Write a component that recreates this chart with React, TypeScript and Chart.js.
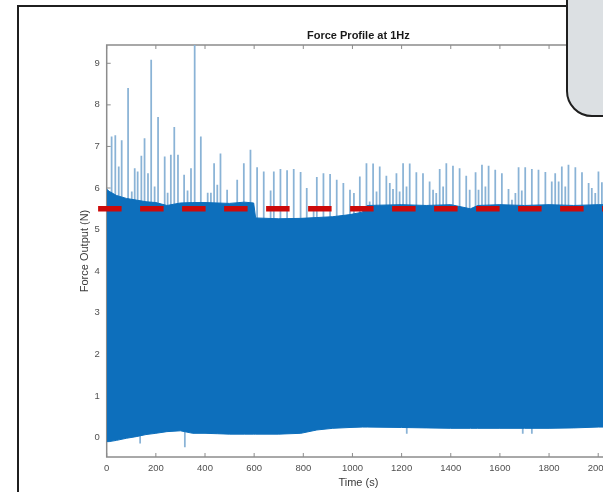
import { useEffect, useRef } from "react";
import { Chart, registerables } from "chart.js";

Chart.register(...registerables);

const FONT = "'Liberation Sans', Arial, Helvetica, sans-serif";

const titleText = "Force Profile at 1Hz";
const xLabel = "Time (s)";
const yLabel = "Force Output (N)";

const xTicks = [0, 200, 400, 600, 800, 1000, 1200, 1400, 1600, 1800, 2000];
const yTicks = [0, 1, 2, 3, 4, 5, 6, 7, 8, 9];
const xMin = 0;
const xMax = 2048;
const yMin = -0.47;
const yMax = 9.44;

// envelope of the dense 1 Hz oscillation (upper and lower extremes)
const envTimes = [0, 10, 40, 80, 120, 160, 200, 245, 300, 350, 400, 450, 500, 560, 598, 606, 700, 790, 855, 920, 990, 1040, 1060, 1200, 1300, 1400, 1480, 1510, 1600, 1700, 1800, 1900, 2000, 2100];
const envHigh = [5.97, 5.92, 5.82, 5.75, 5.71, 5.67, 5.65, 5.58, 5.64, 5.65, 5.65, 5.64, 5.63, 5.66, 5.64, 5.28, 5.26, 5.27, 5.29, 5.31, 5.36, 5.42, 5.58, 5.6, 5.58, 5.6, 5.5, 5.58, 5.6, 5.58, 5.6, 5.58, 5.6, 5.6];
const envLow = [-0.1, -0.1, -0.07, -0.02, 0.02, 0.07, 0.1, 0.14, 0.16, 0.1, 0.1, 0.09, 0.08, 0.08, 0.08, 0.08, 0.08, 0.1, 0.18, 0.22, 0.24, 0.25, 0.25, 0.24, 0.23, 0.22, 0.22, 0.22, 0.22, 0.22, 0.22, 0.23, 0.25, 0.25];

// isolated force peaks above the envelope
const spikeBase = 5.0;
const spikeTimes = [20, 35, 49, 61, 87, 102, 114, 126, 141, 154, 168, 181, 195, 209, 236, 248, 261, 275, 290, 315, 329, 343, 358, 383, 411, 424, 437, 450, 463, 490,
  531, 558, 585, 612, 639, 667, 680, 707, 734, 761, 789, 814, 842, 855, 882, 909, 936, 963, 990,
  1006, 1030, 1057, 1070, 1084, 1098, 1111, 1138, 1152, 1165, 1179, 1192, 1206, 1220, 1233, 1260, 1287, 1314, 1328, 1341, 1355, 1369, 1382, 1409, 1436, 1463, 1477, 1501,
  1513, 1527, 1541, 1554, 1581, 1608, 1635, 1649, 1663, 1676, 1689, 1703, 1730, 1757, 1785, 1811, 1825, 1839, 1852, 1866, 1879, 1907, 1934, 1961, 1974, 1988, 2001, 2015];
const spikePeaks = [7.23, 7.26, 6.51, 7.14, 8.4, 5.91, 6.47, 6.39, 6.77, 7.19, 6.35, 9.08, 6.03, 7.7, 6.75, 5.88, 6.79, 7.46, 6.79, 6.31, 5.93, 6.47, 9.6, 7.23, 5.88, 5.88, 6.59, 6.07, 6.82, 5.95,
  6.19, 6.59, 6.91, 6.49, 6.39, 5.93, 6.39, 6.45, 6.42, 6.45, 6.38, 5.99, 5.5, 6.26, 6.35, 6.33, 6.19, 6.11, 5.95,
  5.87, 6.27, 6.59, 5.67, 6.58, 5.91, 6.51, 6.29, 6.11, 5.97, 6.35, 5.91, 6.59, 6.03, 6.58, 6.37, 6.35, 6.15, 5.95, 5.87, 6.45, 6.03, 6.59, 6.53, 6.47, 6.29, 5.95, 6.37,
  5.95, 6.55, 6.03, 6.53, 6.43, 6.35, 5.97, 5.71, 5.87, 6.49, 5.93, 6.49, 6.45, 6.43, 6.38, 6.15, 6.35, 6.15, 6.51, 6.03, 6.55, 6.49, 6.37, 6.11, 5.99, 5.87, 6.39, 6.13];

// small dips below the lower envelope
const dipTop = 0.3;
const dipTimes = [136, 318, 1221, 1693, 1730];
const dipLows = [-0.14, -0.23, 0.1, 0.1, 0.1];

// threshold (red dashed)
const thresholdValue = 5.5;
const thresholdStart = -35;
const thresholdEnd = 2300;

const BLUE = "#0d6fbc";
const SPIKE = "#8ab3d6";

export default function App() {
  const ref = useRef<HTMLCanvasElement>(null);

  useEffect(() => {
    const canvas = ref.current;
    if (!canvas) return;

    const decor = {
      id: "decor",
      beforeDatasetsDraw(chart: any) {
        const { ctx, chartArea: a, scales } = chart;
        ctx.save();
        ctx.strokeStyle = "#8c8c8c";
        ctx.lineWidth = 1.5;
        ctx.strokeRect(a.left, a.top, a.right - a.left, a.bottom - a.top);
        ctx.lineWidth = 1;
        const L = 4;
        ctx.beginPath();
        for (const v of xTicks) {
          const px = scales.x.getPixelForValue(v);
          ctx.moveTo(px, a.bottom);
          ctx.lineTo(px, a.bottom - L);
          ctx.moveTo(px, a.top);
          ctx.lineTo(px, a.top + L);
        }
        for (const v of yTicks) {
          const py = scales.y.getPixelForValue(v);
          ctx.moveTo(a.left, py);
          ctx.lineTo(a.left + L, py);
        }
        ctx.stroke();
        ctx.restore();
      },
      afterDraw(chart: any) {
        const { ctx, chartArea: a } = chart;
        ctx.save();
        ctx.textAlign = "center";
        ctx.textBaseline = "middle";
        ctx.fillStyle = "#1a1a1a";
        ctx.font = `bold 11px ${FONT}`;
        ctx.fillText(titleText, (a.left + a.right) / 2, a.top - 9.5);
        ctx.fillStyle = "#3a3a3a";
        ctx.font = `11px ${FONT}`;
        ctx.fillText(xLabel, (a.left + a.right) / 2, a.bottom + 26);
        ctx.translate(a.left - 22, (a.top + a.bottom) / 2);
        ctx.rotate(-Math.PI / 2);
        ctx.fillText(yLabel, 0, 0);
        ctx.restore();
      },
    };

    const chart = new Chart(canvas, {
      type: "line",
      data: {
        datasets: [
          {
            type: "line",
            label: "threshold",
            data: [
              { x: thresholdStart, y: thresholdValue },
              { x: thresholdEnd, y: thresholdValue },
            ],
            borderColor: "#cc0a0a",
            borderWidth: 5.5,
            borderDash: [23.5, 18.5],
            pointRadius: 0,
            fill: false,
            clip: false as any,
            order: 0,
          },
          {
            type: "line",
            label: "upper",
            data: envTimes.map((t, i) => ({ x: t, y: envHigh[i] })),
            borderColor: BLUE,
            borderWidth: 1,
            backgroundColor: BLUE,
            fill: "+1",
            pointRadius: 0,
            tension: 0,
            order: 1,
          },
          {
            type: "line",
            label: "lower",
            data: envTimes.map((t, i) => ({ x: t, y: envLow[i] })),
            borderColor: BLUE,
            borderWidth: 1,
            fill: false,
            pointRadius: 0,
            tension: 0,
            order: 1,
          },
          {
            type: "bar",
            label: "spikes",
            data: spikeTimes.map((t, i) => ({ x: t, y: [spikeBase, spikePeaks[i]] })) as any,
            backgroundColor: SPIKE,
            barThickness: 1.1,
            grouped: false,
            order: 2,
          } as any,
          {
            type: "bar",
            label: "dips",
            data: dipTimes.map((t, i) => ({ x: t, y: [dipLows[i], dipTop] })) as any,
            backgroundColor: SPIKE,
            barThickness: 1.1,
            grouped: false,
            order: 2,
          } as any,
        ],
      },
      options: {
        animation: false,
        responsive: false,
        maintainAspectRatio: false,
        events: [],
        layout: { padding: { left: 0, top: 45, right: 30, bottom: 0 } },
        plugins: {
          legend: { display: false },
          tooltip: { enabled: false },
          title: { display: false },
        },
        scales: {
          x: {
            type: "linear",
            min: xMin,
            max: xMax,
            offset: false,
            grid: { display: false, drawTicks: false },
            border: { display: false },
            afterBuildTicks: (s: any) => {
              s.ticks = xTicks.map((v) => ({ value: v }));
            },
            afterFit: (s: any) => {
              s.height = 35;
            },
            ticks: {
              padding: 6,
              color: "#505050",
              font: { family: FONT, size: 9.5 },
              maxRotation: 0,
              autoSkip: false,
              callback: (v: any) => String(v),
            },
          },
          y: {
            type: "linear",
            min: yMin,
            max: yMax,
            grid: { display: false, drawTicks: false },
            border: { display: false },
            afterBuildTicks: (s: any) => {
              s.ticks = yTicks.map((v) => ({ value: v }));
            },
            afterFit: (s: any) => {
              s.width = 106.7;
            },
            ticks: {
              padding: 7,
              color: "#505050",
              font: { family: FONT, size: 9.5 },
              autoSkip: false,
              callback: (v: any) => String(v),
            },
          },
        },
      },
      plugins: [decor],
    });

    return () => chart.destroy();
  }, []);

  return (
    <div
      style={{
        position: "fixed",
        left: 0,
        top: 0,
        width: 603,
        height: 492,
        overflow: "hidden",
        background: "#ffffff",
      }}
    >
      <canvas
        ref={ref}
        width={640}
        height={492}
        style={{ position: "absolute", left: 0, top: 0, width: 640, height: 492 }}
      />
      <div
        style={{
          position: "absolute",
          left: 17,
          top: 5,
          width: 700,
          height: 600,
          border: "2px solid #1f1f1f",
          pointerEvents: "none",
        }}
      />
      <div
        style={{
          position: "absolute",
          left: 566,
          top: -40,
          width: 100,
          height: 157,
          boxSizing: "border-box",
          border: "2px solid #1f1f1f",
          borderBottomLeftRadius: 26,
          background: "#dce0e3",
        }}
      />
    </div>
  );
}
